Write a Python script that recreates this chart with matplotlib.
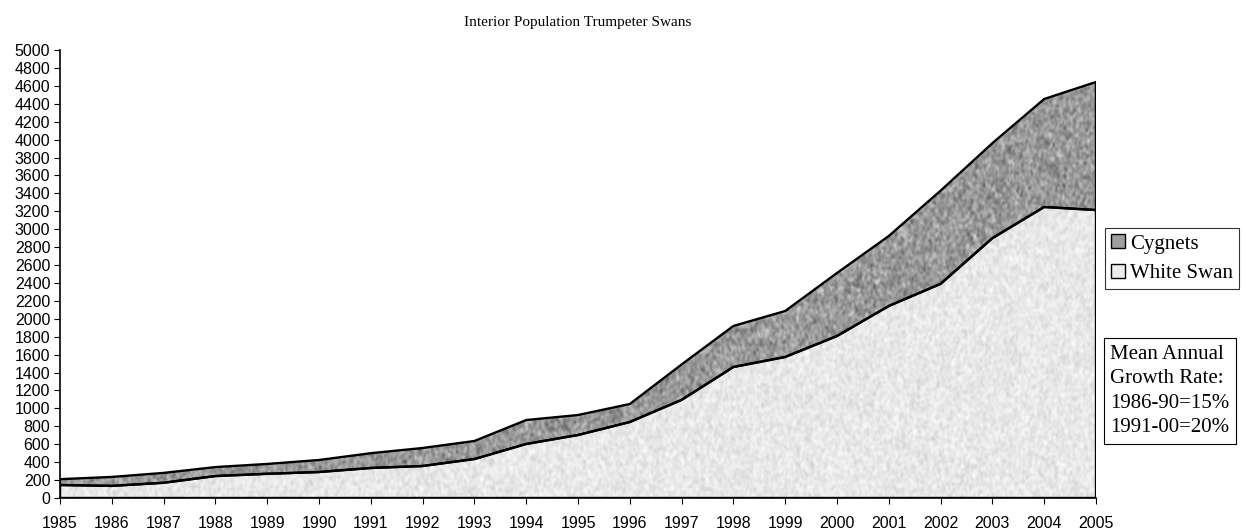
import numpy as np
import matplotlib
matplotlib.use('Agg')
import matplotlib.pyplot as plt
from matplotlib.patches import Patch

# data
years = list(range(1985, 2006))
white_swan = [145, 135, 170, 245, 270, 290, 335, 357, 435, 603, 703, 848,
              1095, 1462, 1574, 1808, 2143, 2390, 2900, 3248, 3214]
total = [210, 235, 280, 345, 380, 424, 500, 558, 636, 870, 926, 1049,
         1490, 1920, 2087, 2511, 2924, 3430, 3960, 4453, 4643]
cygnets = [t - w for t, w in zip(total, white_swan)]

serif = ['Liberation Serif', 'DejaVu Serif']
sans = ['Liberation Sans', 'DejaVu Sans']

fig = plt.figure(figsize=(12.46, 5.31), dpi=100)
ax = fig.add_axes([60 / 1246, 1 - 498 / 531, 1036 / 1246, 448 / 531])

lower = np.zeros(len(years))
poly_w = ax.fill_between(years, lower, white_swan, facecolor='none', edgecolor='black', linewidth=1.7)
poly_c = ax.fill_between(years, white_swan, total, facecolor='none', edgecolor='black', linewidth=1.7)


# speckled texture for the areas (decoration only)
def texture(mean, spread, seed):
    rng = np.random.default_rng(seed)
    img = rng.normal(0, 1, (180, 620))
    img = mean + spread * img
    return np.clip(img, 0, 1)


tex_w = texture(0.91, 0.05, 1)
tex_c = texture(0.6, 0.12, 2)
im_w = ax.imshow(tex_w, cmap='gray', vmin=0, vmax=1, extent=[1985, 2005, 0, 5000],
                 aspect='auto', interpolation='bicubic', zorder=0)
im_w.set_clip_path(poly_w.get_paths()[0], transform=ax.transData)
im_c = ax.imshow(tex_c, cmap='gray', vmin=0, vmax=1, extent=[1985, 2005, 0, 5000],
                 aspect='auto', interpolation='bicubic', zorder=0)
im_c.set_clip_path(poly_c.get_paths()[0], transform=ax.transData)

ax.set_xlim(1985, 2005)
ax.set_ylim(0, 5000)
ax.set_xticks(years)
ax.set_yticks(range(0, 5001, 200))
for lab in ax.get_xticklabels() + ax.get_yticklabels():
    lab.set_family(sans)
    lab.set_fontsize(11.5)
ax.tick_params(axis='x', direction='out', length=4, pad=9)
ax.tick_params(axis='y', direction='out', length=4, pad=3)
ax.spines['top'].set_visible(False)
ax.spines['right'].set_visible(False)
ax.spines['left'].set_linewidth(1.2)
ax.spines['bottom'].set_linewidth(1.2)

ax.set_title('Interior Population Trumpeter Swans', family=serif, fontsize=11, pad=17)

handles = [Patch(facecolor='#9e9e9e', edgecolor='black', label='Cygnets'),
           Patch(facecolor='#ececec', edgecolor='black', label='White Swan')]
leg = fig.legend(handles=handles, loc='upper left', bbox_to_anchor=(1105 / 1246, 1 - 228 / 531),
                 prop={'family': serif, 'size': 15}, frameon=True, fancybox=False,
                 handlelength=0.65, handleheight=0.65, handletextpad=0.25, borderpad=0.3,
                 labelspacing=0.5, borderaxespad=0)
leg.get_frame().set_edgecolor('black')
leg.get_frame().set_linewidth(0.8)

fig.text(1110 / 1246, 1 - 391 / 531, 'Mean Annual\nGrowth Rate:\n1986-90=15%\n1991-00=20%',
         family=serif, fontsize=15, va='center', ha='left', linespacing=1.4,
         bbox=dict(boxstyle='square,pad=0.3', facecolor='white', edgecolor='black', linewidth=0.8))

fig.savefig('out.png', dpi=100)
